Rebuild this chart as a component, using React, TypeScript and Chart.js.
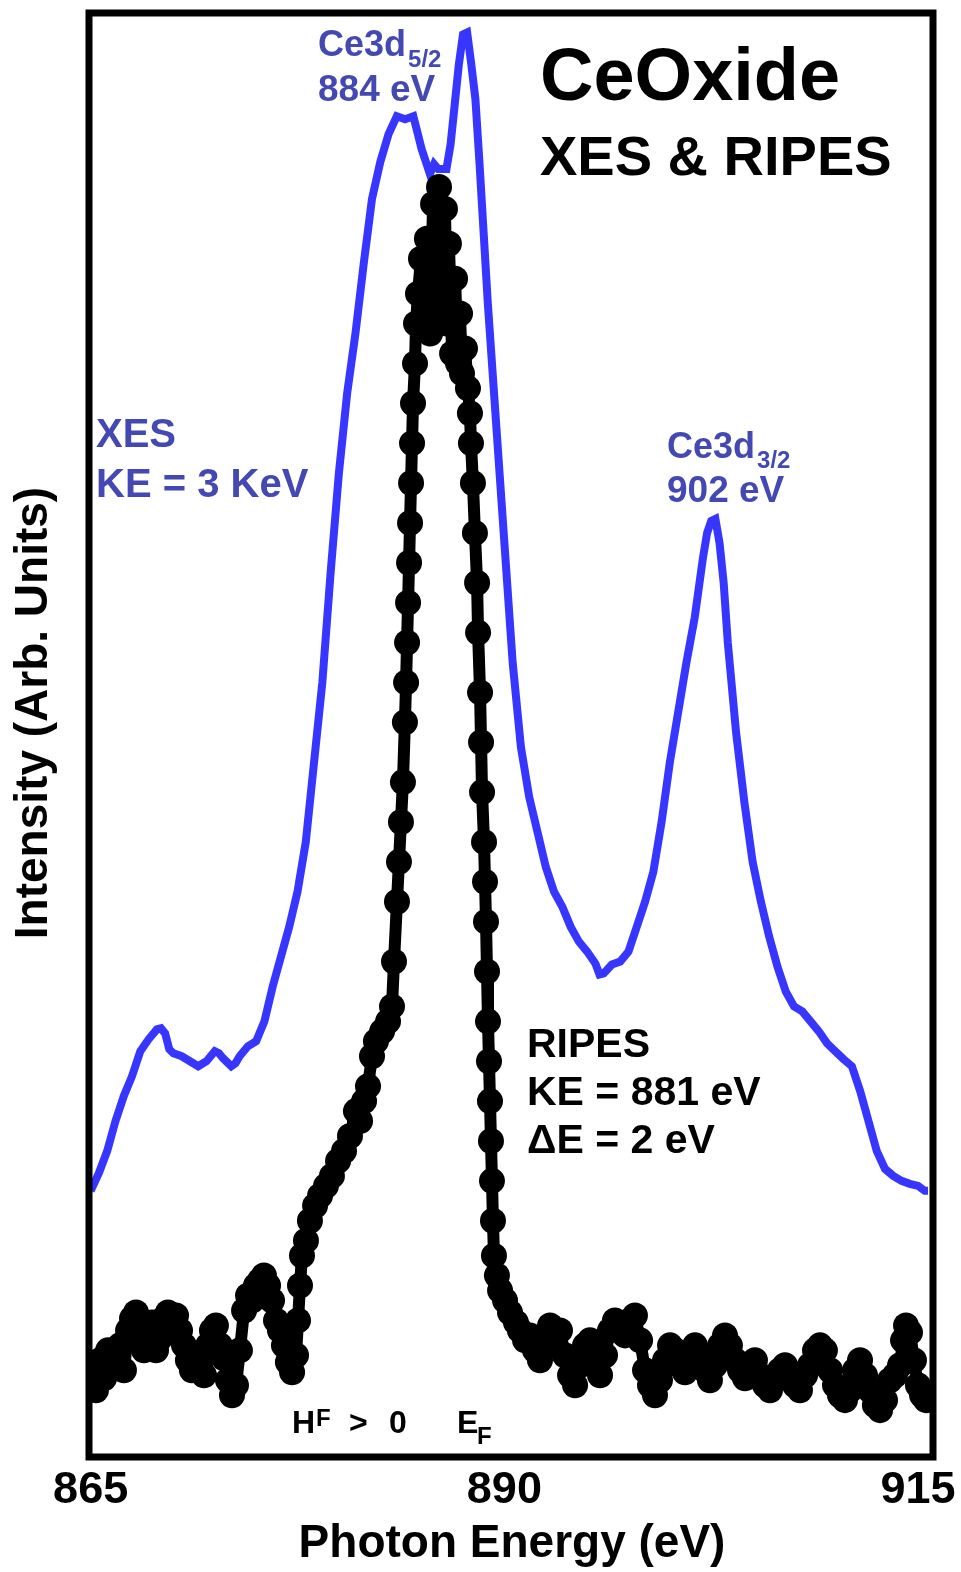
import { useEffect, useRef } from 'react';
import { Chart, registerables } from 'chart.js';

Chart.register(...registerables);

const FONT = '"Liberation Sans", Arial, Helvetica, sans-serif';

// X axis
const X_MIN = 864.9;
const X_MAX = 915.9;
const X_TICKS = [865, 890, 915];
const Y_MIN = 0;
const Y_MAX = 1448.5;

// XES (blue) – photon energy (eV) and intensity (arb. units)
const xesEnergy = [
  865.0, 865.5, 866.0, 866.5, 867.0, 867.5, 868.0, 868.5, 869.0, 869.25, 869.5, 869.75,
  870.0, 870.5, 871.0, 871.5, 872.0, 872.5, 872.75, 873.0, 873.5, 873.75, 874.0, 874.5,
  875.0, 875.5, 876.0, 876.5, 877.0, 877.5, 878.0, 878.5, 879.0, 879.5, 880.0, 880.5,
  881.0, 881.5, 882.0, 882.5, 883.0, 883.5, 884.0, 884.5, 885.0, 885.5, 885.75, 886.0,
  886.5, 886.75, 887.0, 887.25, 887.5, 887.75, 888.0, 888.25, 888.5, 888.75, 889.0, 889.5,
  890.0, 890.5, 891.0, 891.5, 892.0, 892.5, 893.0, 893.5, 894.0, 894.5, 895.0, 895.5,
  895.75, 896.0, 896.5, 897.0, 897.5, 898.0, 898.5, 899.0, 899.5, 900.0, 900.5, 901.0,
  901.5, 902.0, 902.25, 902.5, 902.75, 903.0, 903.25, 903.5, 904.0, 904.5, 905.0, 905.5,
  906.0, 906.5, 907.0, 907.5, 908.0, 908.5, 909.0, 909.5, 910.0, 910.5, 911.0, 911.5,
  912.0, 912.5, 913.0, 913.5, 914.0, 914.5, 915.0, 915.4, 915.6,
];
const xesIntensity = [
  267, 285, 307, 337, 362, 382, 407, 419, 429, 430, 425, 409,
  405, 402, 397, 392, 397, 407, 405, 400, 392, 395, 402, 412,
  417, 437, 472, 502, 532, 567, 617, 697, 777, 887, 987, 1067,
  1127, 1197, 1262, 1299, 1327, 1345, 1342, 1345, 1312, 1287, 1297, 1292,
  1292, 1317, 1357, 1397, 1427, 1429, 1397, 1362, 1297, 1227, 1157, 1037,
  917, 797, 712, 662, 627, 592, 567, 552, 532, 517, 507, 495,
  484, 485, 494, 497, 507, 532, 557, 587, 637, 697, 747, 797,
  842, 902, 927, 939, 941, 917, 877, 817, 727, 657, 597, 557,
  522, 492, 467, 452, 447, 437, 427, 415, 407, 399, 392, 367,
  337, 307, 289, 282, 277, 274, 272, 267, 267,
];

// RIPES (black markers) – photon energy (eV) and intensity (arb. units)
const ripesEnergy = [
  865.08, 865.32, 865.56, 865.81, 866.05, 866.29, 866.53, 866.77, 867.01, 867.26, 867.5, 867.74,
  867.98, 868.22, 868.47, 868.71, 868.95, 869.19, 869.43, 869.67, 869.92, 870.16, 870.4, 870.64,
  870.88, 871.12, 871.37, 871.61, 871.85, 872.09, 872.33, 872.57, 872.82, 873.06, 873.3, 873.54,
  873.78, 874.02, 874.27, 874.51, 874.75, 874.99, 875.23, 875.47, 875.72, 875.96, 876.2, 876.44,
  876.68, 876.92, 877.17, 877.41, 877.53, 877.65, 877.77, 878.01, 878.25, 878.56, 878.86, 879.22,
  879.58, 879.95, 880.31, 880.67, 881.03, 881.28, 881.52, 881.76, 882.0, 882.24, 882.61, 882.97,
  883.21, 883.33, 883.51, 883.63, 883.75, 883.87, 883.99, 884.06, 884.12, 884.18, 884.24, 884.3,
  884.36, 884.42, 884.48, 884.6, 884.66, 884.78, 884.96, 885.14, 885.32, 885.51, 885.69, 885.87,
  886.05, 886.23, 886.41, 886.53, 886.65, 886.84, 887.02, 887.2, 887.32, 887.44, 887.62, 887.8,
  887.92, 887.98, 888.1, 888.22, 888.35, 888.41, 888.53, 888.59, 888.65, 888.77, 888.83, 888.89,
  888.95, 889.01, 889.07, 889.13, 889.19, 889.25, 889.31, 889.37, 889.55, 889.74, 890.04, 890.34,
  890.7, 890.94, 891.25, 891.55, 891.85, 892.15, 892.45, 892.76, 893.06, 893.36, 893.66, 893.97,
  894.27, 894.57, 894.87, 895.17, 895.48, 895.78, 896.08, 896.38, 896.68, 896.99, 897.29, 897.59,
  897.89, 898.2, 898.5, 898.8, 899.1, 899.4, 899.71, 900.01, 900.31, 900.61, 900.91, 901.22,
  901.52, 901.82, 902.12, 902.42, 902.73, 903.03, 903.33, 903.63, 903.94, 904.24, 904.54, 904.84,
  905.14, 905.45, 905.75, 906.05, 906.35, 906.65, 906.96, 907.26, 907.56, 907.86, 908.17, 908.47,
  908.77, 909.07, 909.37, 909.68, 909.98, 910.28, 910.58, 910.88, 911.19, 911.49, 911.79, 912.09,
  912.39, 912.7, 913.0, 913.3, 913.6, 913.91, 914.09, 914.27, 914.51, 914.75, 914.99, 915.24,
  915.48, 915.6,
];
const ripesIntensity = [
  82, 67, 97, 79, 107, 92, 99, 112, 87, 127, 139, 145,
  122, 107, 112, 135, 107, 119, 139, 145, 137, 142, 127, 112,
  97, 87, 99, 92, 82, 112, 127, 132, 112, 99, 77, 62,
  72, 107, 147, 162, 157, 172, 177, 182, 172, 157, 137, 127,
  112, 95, 85, 102, 137, 172, 202, 217, 237, 252, 262, 272,
  282, 297, 307, 322, 347, 337, 357, 372, 402, 417, 427, 437,
  452, 497, 557, 597, 637, 677, 737, 777, 817, 857, 897, 937,
  977, 1017, 1057, 1097, 1137, 1167, 1202, 1137, 1222, 1127, 1257, 1157,
  1274, 1187, 1252, 1137, 1217, 1107, 1182, 1097, 1147, 1087, 1112, 1072,
  1047, 1017, 977, 927, 877, 827, 767, 717, 667, 617, 577, 537,
  487, 437, 397, 357, 317, 277, 237, 202, 182, 167, 157, 145,
  135, 127, 117, 122, 107, 97, 122, 132, 112, 127, 102, 82,
  72, 92, 112, 117, 97, 82, 102, 127, 137, 132, 122, 137,
  142, 117, 87, 72, 62, 77, 97, 112, 107, 92, 85, 97,
  112, 102, 87, 77, 92, 112, 122, 112, 97, 87, 79, 87,
  97, 82, 72, 67, 79, 87, 92, 85, 72, 67, 82, 92,
  107, 112, 107, 87, 72, 62, 57, 67, 87, 97, 82, 67,
  52, 47, 57, 77, 82, 92, 117, 132, 125, 97, 72, 62,
  57, 62,
];

const xesPoints = xesEnergy.map((e, i) => ({ x: e, y: xesIntensity[i] }));
const ripesPoints = ripesEnergy.map((e, i) => ({ x: e, y: ripesIntensity[i] }));

const LABEL_BLUE = '#4348B2';
const LINE_BLUE = '#3636FF';

type Run = { t: string; size: number; dy?: number; gap?: number };

function drawRuns(ctx: CanvasRenderingContext2D, x: number, y: number, runs: Run[]) {
  let cx = x;
  for (const r of runs) {
    cx += r.gap || 0;
    ctx.font = `bold ${r.size}px ${FONT}`;
    ctx.fillText(r.t, cx, y + (r.dy || 0));
    cx += ctx.measureText(r.t).width;
  }
}

const overlay = {
  id: 'overlay',
  afterDatasetsDraw(chart: any) {
    const { ctx, chartArea: a, scales } = chart;
    const xs = scales.x;
    ctx.save();
    // frame
    ctx.strokeStyle = '#000';
    ctx.lineWidth = 7;
    ctx.strokeRect(a.left, a.top, a.right - a.left, a.bottom - a.top);

    ctx.textBaseline = 'alphabetic';
    // x tick labels
    ctx.fillStyle = '#000';
    ctx.font = `bold 45px ${FONT}`;
    ctx.textAlign = 'center';
    X_TICKS.forEach((v) => ctx.fillText(String(v), xs.getPixelForValue(v), a.bottom + 46));
    // x title
    ctx.font = `bold 46px ${FONT}`;
    ctx.fillText('Photon Energy (eV)', 512, a.bottom + 100);
    // y title
    ctx.save();
    ctx.translate(47, 713);
    ctx.rotate(-Math.PI / 2);
    ctx.font = `bold 46px ${FONT}`;
    ctx.fillText('Intensity (Arb. Units)', 0, 0);
    ctx.restore();

    ctx.textAlign = 'left';
    // title
    ctx.font = `bold 74px ${FONT}`;
    ctx.fillText('CeOxide', 540, 100);
    ctx.font = `bold 56px ${FONT}`;
    ctx.fillText('XES & RIPES', 540, 175);

    // RIPES label
    ctx.font = `bold 41px ${FONT}`;
    ctx.fillText('RIPES', 527, 1057);
    ctx.fillText('KE = 881 eV', 527, 1105);
    ctx.fillText('\u0394E = 2 eV', 527, 1153);

    // H^F > 0   E_F
    ctx.font = `bold 32px ${FONT}`;
    ctx.fillText('H', 292, 1433);
    ctx.font = `bold 24px ${FONT}`;
    ctx.fillText('F', 316, 1426);
    ctx.font = `bold 32px ${FONT}`;
    ctx.fillText('>', 349, 1433);
    ctx.fillText('0', 389, 1433);
    ctx.fillText('E', 457, 1433);
    ctx.font = `bold 24px ${FONT}`;
    ctx.fillText('F', 477, 1444);

    // blue labels
    ctx.fillStyle = LABEL_BLUE;
    drawRuns(ctx, 318, 56, [
      { t: 'Ce3d', size: 36 },
      { t: '5/2', size: 24, dy: 11, gap: 2 },
    ]);
    ctx.font = `bold 37px ${FONT}`;
    ctx.fillText('884 eV', 318, 101);

    drawRuns(ctx, 667, 458, [
      { t: 'Ce3d', size: 36 },
      { t: '3/2', size: 24, dy: 10, gap: 2 },
    ]);
    ctx.font = `bold 37px ${FONT}`;
    ctx.fillText('902 eV', 667, 502);

    ctx.font = `bold 40px ${FONT}`;
    ctx.fillText('XES', 96, 447);
    ctx.fillText('KE = 3 KeV', 96, 497);

    ctx.restore();
  },
};

export default function App() {
  const ref = useRef<HTMLCanvasElement>(null);
  useEffect(() => {
    document.body.style.margin = '0';
    const canvas = ref.current!;
    const chart = new Chart(canvas, {
      type: 'line',
      data: {
        datasets: [
          {
            label: 'XES',
            data: xesPoints,
            borderColor: LINE_BLUE,
            borderWidth: 8,
            pointRadius: 0,
            tension: 0,
            borderJoinStyle: 'miter',
            borderCapStyle: 'butt',
            order: 2,
            clip: 0,
          } as any,
          {
            label: 'RIPES',
            data: ripesPoints,
            borderColor: '#000',
            backgroundColor: '#000',
            borderWidth: 12,
            pointRadius: 13,
            pointBorderWidth: 0,
            pointBackgroundColor: '#000',
            pointStyle: 'circle',
            tension: 0,
            borderJoinStyle: 'round',
            order: 1,
            clip: 0,
          } as any,
        ],
      },
      options: {
        responsive: false,
        animation: false,
        devicePixelRatio: 1,
        layout: { padding: { left: 89, right: 28, top: 8.5, bottom: 115 } },
        plugins: { legend: { display: false }, tooltip: { enabled: false } },
        events: [],
        scales: {
          x: { type: 'linear', min: X_MIN, max: X_MAX, display: false },
          y: { type: 'linear', min: Y_MIN, max: Y_MAX, display: false },
        },
      },
      plugins: [overlay],
    });
    return () => chart.destroy();
  }, []);
  return (
    <div style={{ width: 961, height: 1572, background: '#fff' }}>
      <canvas ref={ref} width={961} height={1572} style={{ display: 'block', width: 961, height: 1572 }} />
    </div>
  );
}
